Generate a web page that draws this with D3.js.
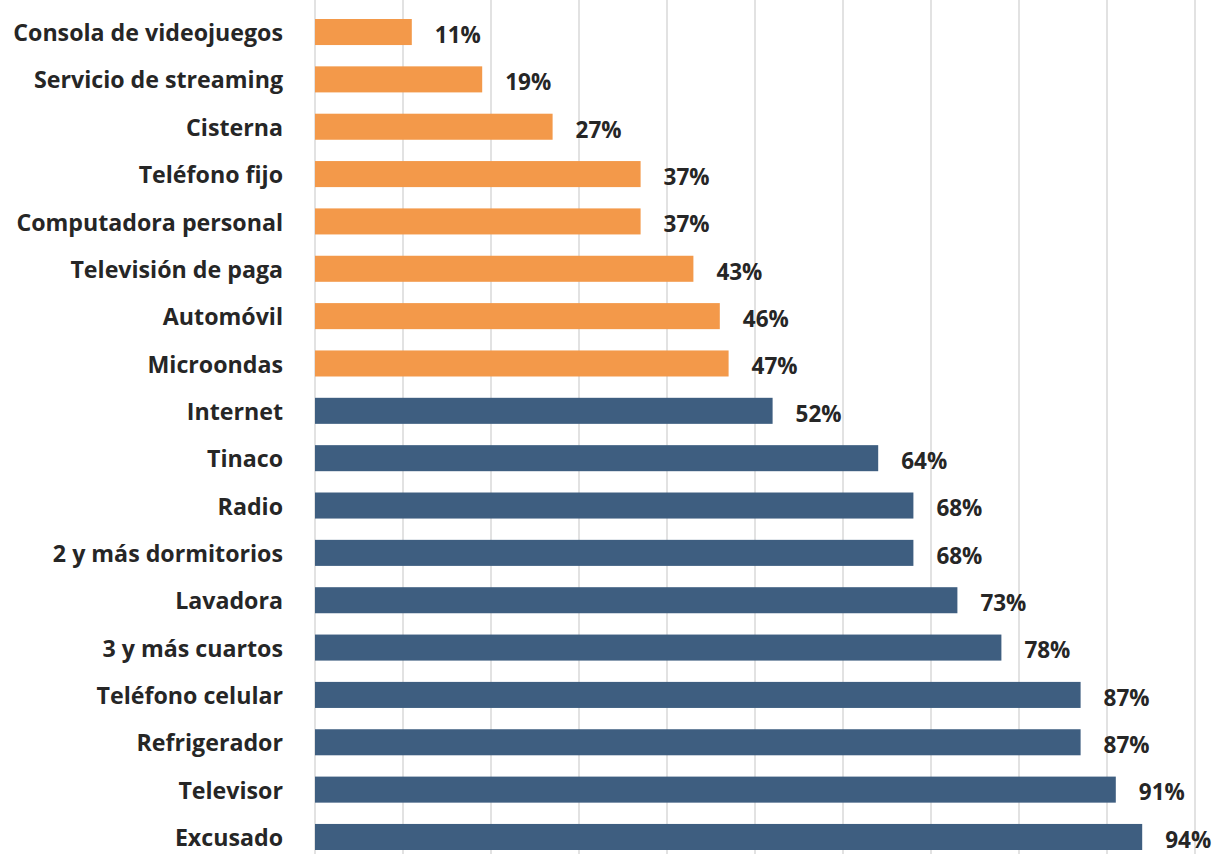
<!DOCTYPE html>
<html><head><meta charset="utf-8">
<script src="https://cdn.jsdelivr.net/npm/d3@7"></script>
<style>body{margin:0;background:#fff}</style>
</head><body>
<svg id="chart" width="1215" height="854"></svg>
<script>
const categories = ["Consola de videojuegos","Servicio de streaming","Cisterna","Teléfono fijo","Computadora personal","Televisión de paga","Automóvil","Microondas","Internet","Tinaco","Radio","2 y más dormitorios","Lavadora","3 y más cuartos","Teléfono celular","Refrigerador","Televisor","Excusado"];
const values = [11,19,27,37,37,43,46,47,52,64,68,68,73,78,87,87,91,94];
const groups = ["low","low","low","low","low","low","low","low","high","high","high","high","high","high","high","high","high","high"];
const gridTicks = [0,10,20,30,40,50,60,70,80,90,100];
const colors = {low:"#f3994a", high:"#3e5e80"};

const svg = d3.select("#chart");
const x = d3.scaleLinear().domain([0,100]).range([315,1195]);
const y = d3.scaleBand().domain(categories).range([-2.3,871.3]).padding(0.45);

svg.append("g").selectAll("line").data(gridTicks).join("line")
  .attr("x1",d=>x(d)).attr("x2",d=>x(d)).attr("y1",0).attr("y2",854)
  .attr("stroke","#d9d9d9").attr("stroke-width",1.5);

svg.append("g").selectAll("rect").data(categories).join("rect")
  .attr("x",x(0)).attr("y",d=>y(d)).attr("height",y.bandwidth())
  .attr("width",(d,i)=>x(values[i])-x(0))
  .attr("fill",(d,i)=>colors[groups[i]]);

const font = "'Open Sans', Lato, sans-serif";
svg.append("g").selectAll("text").data(categories).join("text")
  .attr("x",283).attr("y",d=>y(d)+y.bandwidth()/2+1).attr("dy","0.35em")
  .attr("text-anchor","end").attr("font-family",font).attr("font-weight","bold")
  .attr("font-size",23.2).attr("fill","#262626").text(d=>d);

svg.append("g").selectAll("text").data(categories).join("text")
  .attr("x",(d,i)=>x(values[i])+23).attr("y",d=>y(d)+y.bandwidth()/2+3).attr("dy","0.35em")
  .attr("font-family",font).attr("font-weight","bold")
  .attr("font-size",22.5).attr("fill","#262626").text((d,i)=>values[i]+"%");
</script>
</body></html>
